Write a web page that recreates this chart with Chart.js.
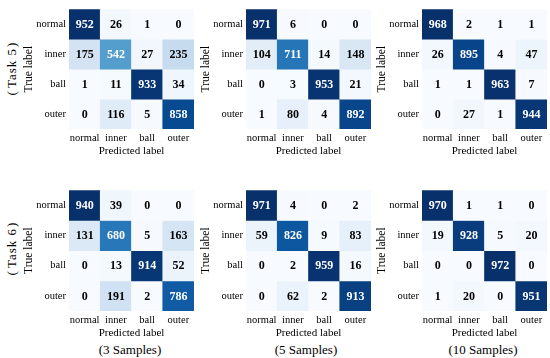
<!DOCTYPE html>
<html>
<head>
<meta charset="utf-8">
<script src="https://cdn.jsdelivr.net/npm/chart.js@4/dist/chart.umd.min.js"></script>
<style>
  html, body { margin: 0; padding: 0; background: #fff; }
  #wrap { position: relative; width: 550px; height: 358px; overflow: hidden; background: #fff; }
  canvas { position: absolute; }
  .cap { position: absolute; font-family: "Liberation Serif", "Times New Roman", serif; color: #000; white-space: nowrap; }
  .rot { transform: translate(-50%, -50%) rotate(-90deg); font-size: 13px; letter-spacing: 1px; }
  .rot .po { margin-right: 3px; letter-spacing: 0; }
  .rot .pc { margin-left: 1px; letter-spacing: 0; }
  .bot { transform: translate(-50%, -50%); font-size: 13px; }
</style>
</head>
<body>
<div id="wrap">
  <canvas id="c0"></canvas><canvas id="c1"></canvas><canvas id="c2"></canvas>
  <canvas id="c3"></canvas><canvas id="c4"></canvas><canvas id="c5"></canvas>
  <div class="cap rot" style="left:12px;top:68.5px;"><span class="po">(</span>Task 5<span class="pc">)</span></div>
  <div class="cap rot" style="left:12px;top:248.5px;"><span class="po">(</span>Task 6<span class="pc">)</span></div>
  <div class="cap bot" style="left:130px;top:350px;">(3 Samples)</div>
  <div class="cap bot" style="left:306px;top:350px;">(5 Samples)</div>
  <div class="cap bot" style="left:483px;top:350px;">(10 Samples)</div>
</div>
<script>
// ---- data ----
const predLabels = ['normal', 'inner', 'ball', 'outer'];
const trueLabels = ['normal', 'inner', 'ball', 'outer'];

const task5_3samples  = [[952, 26, 1, 0], [175, 542, 27, 235], [1, 11, 933, 34], [0, 116, 5, 858]];
const task5_5samples  = [[971, 6, 0, 0], [104, 711, 14, 148], [0, 3, 953, 21], [1, 80, 4, 892]];
const task5_10samples = [[968, 2, 1, 1], [26, 895, 4, 47], [1, 1, 963, 7], [0, 27, 1, 944]];
const task6_3samples  = [[940, 39, 0, 0], [131, 680, 5, 163], [0, 13, 914, 52], [0, 191, 2, 786]];
const task6_5samples  = [[971, 4, 0, 2], [59, 826, 9, 83], [0, 2, 959, 16], [0, 62, 2, 913]];
const task6_10samples = [[970, 1, 1, 0], [19, 928, 5, 20], [0, 0, 972, 0], [1, 20, 0, 951]];

// ---- colormap (matplotlib "Blues") ----
const bluesStops = [
  [247, 251, 255], [222, 235, 247], [198, 219, 239], [158, 202, 225],
  [107, 174, 214], [66, 146, 198], [33, 113, 181], [8, 81, 156], [8, 48, 107]
];
function blues(t) {
  t = Math.max(0, Math.min(1, t));
  const p = t * (bluesStops.length - 1);
  const i = Math.min(Math.floor(p), bluesStops.length - 2);
  const f = p - i;
  const a = bluesStops[i], b = bluesStops[i + 1];
  const c = a.map((v, k) => Math.round(v + (b[k] - v) * f));
  return `rgb(${c[0]},${c[1]},${c[2]})`;
}

const FONT = '"Liberation Serif", "Times New Roman", serif';

const cellText = {
  id: 'cellText',
  afterDatasetsDraw(chart, args, opts) {
    const m = opts.matrix;
    const mx = Math.max(...m.flat());
    const mn = Math.min(...m.flat());
    const ctx = chart.ctx;
    ctx.save();
    ctx.font = 'bold 12px ' + FONT;
    ctx.textAlign = 'center';
    ctx.textBaseline = 'middle';
    chart.data.datasets.forEach((ds, i) => {
      const meta = chart.getDatasetMeta(i);
      meta.data.forEach((bar, j) => {
        const v = m[i][j];
        ctx.fillStyle = (v - mn) / (mx - mn) > 0.5 ? '#ffffff' : '#000000';
        ctx.fillText(String(v), bar.x, (bar.y + bar.base) / 2 + 0.5);
      });
    });
    ctx.restore();
  }
};

// layout of the six panels: canvas left/top, y-axis width, top padding
const panels = [
  { id: 'c0', m: task5_3samples,  left: 22,  top: 0,   yw: 47, pt: 4.5 },
  { id: 'c1', m: task5_5samples,  left: 199, top: 0,   yw: 47, pt: 4.5 },
  { id: 'c2', m: task5_10samples, left: 375, top: 0,   yw: 47, pt: 4.5 },
  { id: 'c3', m: task6_3samples,  left: 22,  top: 181, yw: 47, pt: 5 },
  { id: 'c4', m: task6_5samples,  left: 199, top: 181, yw: 47, pt: 5 },
  { id: 'c5', m: task6_10samples, left: 375, top: 181, yw: 47, pt: 5 }
];

panels.forEach(p => {
  const cv = document.getElementById(p.id);
  const XH = 29;
  const W = 47 + 125 + 3;
  const H = Math.ceil(p.pt + 124.5 + XH);
  cv.width = W; cv.height = H;
  cv.style.left = p.left + 'px'; cv.style.top = p.top + 'px';
  cv.style.width = W + 'px'; cv.style.height = H + 'px';
  const mx = Math.max(...p.m.flat());
  const mn = Math.min(...p.m.flat());
  const datasets = p.m.map((row, r) => ({
    label: trueLabels[r],
    data: row.map(() => 1),
    backgroundColor: row.map(v => blues((v - mn) / (mx - mn))),
    borderWidth: 0,
    barPercentage: 1,
    categoryPercentage: 1,
    yAxisID: 'y',
    stack: 'cm'
  }));
  new Chart(cv, {
    type: 'bar',
    data: { labels: predLabels, datasets },
    plugins: [cellText],
    options: {
      responsive: false,
      animation: false,
      devicePixelRatio: 1,
      layout: { padding: { top: p.pt, right: 3, bottom: 0, left: 0 } },
      plugins: {
        legend: { display: false },
        tooltip: { enabled: false },
        cellText: { matrix: p.m }
      },
      scales: {
        x: {
          type: 'category',
          offset: true,
          stacked: true,
          grid: { display: false, drawTicks: false },
          border: { display: false },
          ticks: { padding: 3, color: '#000', font: { family: FONT, size: 10.5 }, maxRotation: 0, autoSkip: false },
          title: { display: true, text: 'Predicted label', color: '#000', padding: 0, font: { family: FONT, size: 11 } },
          afterFit: s => { s.height = XH; }
        },
        y: {
          type: 'linear',
          display: false,
          min: 0, max: 4,
          reverse: true,
          stacked: true
        },
        yl: {
          type: 'category',
          axis: 'y',
          position: 'left',
          labels: trueLabels,
          offset: true,
          grid: { display: false, drawTicks: false },
          border: { display: false },
          ticks: { padding: 3, color: '#000', font: { family: FONT, size: 10.5 }, autoSkip: false },
          title: { display: true, text: 'True label', color: '#000', padding: 0, font: { family: FONT, size: 11.5 } },
          afterFit: s => { s.width = p.yw; }
        }
      }
    }
  });
});
</script>
</body>
</html>
